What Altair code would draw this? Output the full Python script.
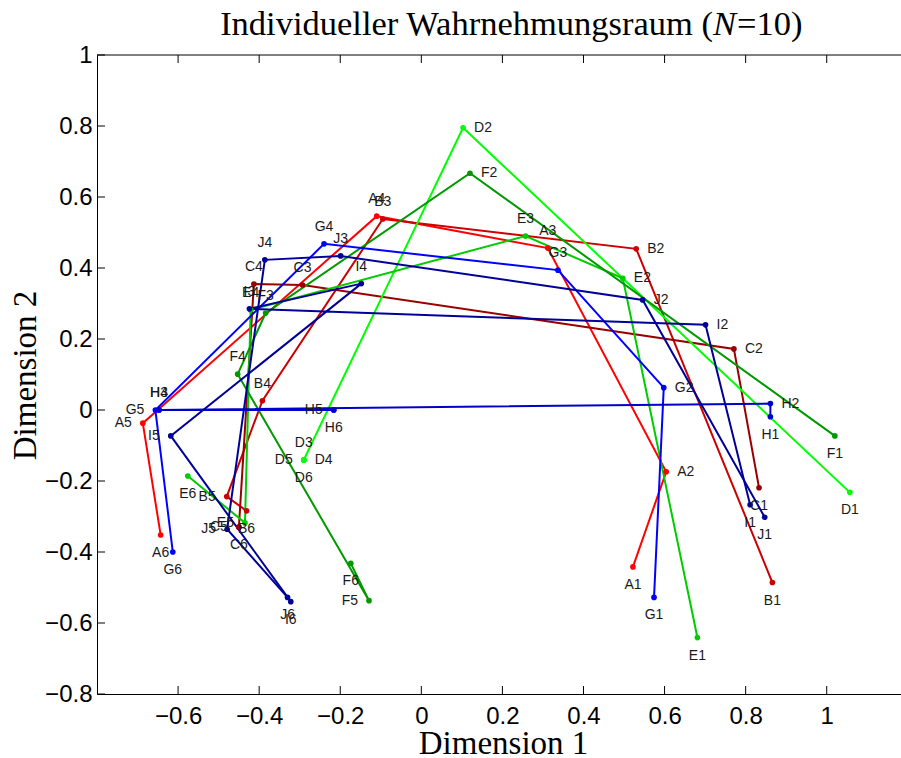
import altair as alt
import pandas as pd

# Stimulus positions (Dimension 1 / Dimension 2) for each of the ten subjects A-J,
# stimuli 1..6 in presentation order.
A_dim1 = [0.522, 0.604, 0.312, -0.110, -0.687, -0.643]
A_dim2 = [-0.442, -0.174, 0.456, 0.546, -0.037, -0.352]
B_dim1 = [0.866, 0.530, -0.095, -0.392, -0.480, -0.431]
B_dim2 = [-0.486, 0.454, 0.538, 0.026, -0.244, -0.284]
C_dim1 = [0.833, 0.771, -0.293, -0.413, -0.450, -0.450]
C_dim2 = [-0.219, 0.172, 0.352, 0.355, -0.330, -0.330]
D_dim1 = [1.057, 0.103, -0.290, -0.290, -0.290, -0.290]
D_dim2 = [-0.232, 0.795, -0.141, -0.141, -0.141, -0.141]
E_dim1 = [0.681, 0.497, 0.257, -0.421, -0.435, -0.576]
E_dim2 = [-0.641, 0.371, 0.490, 0.282, -0.318, -0.186]
F_dim1 = [1.020, 0.120, -0.384, -0.453, -0.129, -0.174]
F_dim2 = [-0.073, 0.667, 0.273, 0.101, -0.537, -0.432]
G_dim1 = [0.574, 0.598, 0.337, -0.240, -0.656, -0.613]
G_dim2 = [-0.528, 0.063, 0.394, 0.468, 0.000, -0.400]
H_dim1 = [0.861, 0.861, -0.647, -0.647, -0.216, -0.216]
H_dim2 = [-0.019, 0.018, 0.000, 0.000, 0.000, 0.000]
I_dim1 = [0.811, 0.701, -0.424, -0.148, -0.618, -0.322]
I_dim2 = [-0.267, 0.240, 0.285, 0.356, -0.073, -0.540]
J_dim1 = [0.847, 0.546, -0.199, -0.386, -0.479, -0.330]
J_dim2 = [-0.302, 0.310, 0.434, 0.423, -0.336, -0.528]

subjects = ["A", "B", "C", "D", "E", "F", "G", "H", "I", "J"]
subject_colors = ["#ff0000", "#cc0000", "#990000",
                  "#00ff00", "#00cc00", "#009900",
                  "#0000ff", "#0000cc", "#000099", "#000099"]

x_ticks = [-0.6, -0.4, -0.2, 0, 0.2, 0.4, 0.6, 0.8, 1.0]
y_ticks = [-0.8, -0.6, -0.4, -0.2, 0, 0.2, 0.4, 0.6, 0.8, 1.0]

# title pieces: the sample size symbol is set in italics
title_parts = ["Individueller Wahrnehmungsraum (", "N", "=10)"]

# where each stimulus label sits relative to its point
label_side = ["below", "right", "above", "above", "left", "below"]
label_side_override = {"D4": "right"}

coords = {
    "A": (A_dim1, A_dim2), "B": (B_dim1, B_dim2), "C": (C_dim1, C_dim2),
    "D": (D_dim1, D_dim2), "E": (E_dim1, E_dim2), "F": (F_dim1, F_dim2),
    "G": (G_dim1, G_dim2), "H": (H_dim1, H_dim2), "I": (I_dim1, I_dim2),
    "J": (J_dim1, J_dim2),
}

rows = []
for s in subjects:
    xs, ys = coords[s]
    for i, (xv, yv) in enumerate(zip(xs, ys)):
        lab = f"{s}{i + 1}"
        rows.append({"subject": s, "idx": i + 1, "label": lab, "x": xv, "y": yv,
                     "side": label_side_override.get(lab, label_side[i])})
df = pd.DataFrame(rows)

W, H = 804, 639
SERIF = "Liberation Serif"
SANS = "Liberation Sans"

x_scale = alt.Scale(domain=[-0.8, 1.1832], nice=False, zero=False)
y_scale = alt.Scale(domain=[-0.8, 1.0], nice=False, zero=False)

x_axis = alt.Axis(values=x_ticks, format="~g", ticks=False, tickSize=0, grid=False,
                  domainColor="black", domainWidth=1,
                  labelFont=SANS, labelFontSize=24, labelColor="black",
                  labelPadding=29, labelBaseline="alphabetic", labelFlush=False,
                  labelOverlap=False,
                  title="Dimension 1", titleFont=SERIF, titleFontSize=33,
                  titleFontWeight="normal", titleColor="black",
                  titleX=406, titleY=59, titleBaseline="alphabetic")
y_axis = alt.Axis(values=y_ticks, format="~g", ticks=False, tickSize=0, grid=False,
                  domainColor="black", domainWidth=1,
                  labelFont=SANS, labelFontSize=24, labelColor="black",
                  labelPadding=5, labelFlush=False, labelOverlap=False,
                  title="Dimension 2", titleFont=SERIF, titleFontSize=33,
                  titleFontWeight="normal", titleColor="black",
                  titleX=-62, titleY=320, titleAngle=270, titleBaseline="alphabetic")

X = alt.X("x:Q", scale=x_scale, axis=x_axis)
Y = alt.Y("y:Q", scale=y_scale, axis=y_axis)
color = alt.Color("subject:N", scale=alt.Scale(domain=subjects, range=subject_colors),
                  legend=None)

base = alt.Chart(df)

lines = base.mark_line(strokeWidth=2).encode(x=X, y=Y, color=color, detail="subject:N",
                                             order="idx:Q")
points = base.mark_circle(size=32, opacity=1).encode(x=X, y=Y, color=color)

label_style = dict(font=SANS, fontSize=14, color="#1a1a1a")
text_below = base.mark_text(align="center", baseline="middle", dy=18, **label_style) \
    .encode(x=X, y=Y, text="label:N").transform_filter(alt.datum.side == "below")
text_above = base.mark_text(align="center", baseline="middle", dy=-17, **label_style) \
    .encode(x=X, y=Y, text="label:N").transform_filter(alt.datum.side == "above")
text_right = base.mark_text(align="left", baseline="middle", dx=11, **label_style) \
    .encode(x=X, y=Y, text="label:N").transform_filter(alt.datum.side == "right")
text_left = base.mark_text(align="right", baseline="middle", dx=-11, **label_style) \
    .encode(x=X, y=Y, text="label:N").transform_filter(alt.datum.side == "left")

# frame: top edge and inward ticks on the bottom, top and left sides
xt = pd.DataFrame({"x": x_ticks})
yt = pd.DataFrame({"y": y_ticks})
one = pd.DataFrame({"k": [0]})
top_edge = alt.Chart(one).mark_rule(color="black", strokeWidth=1).encode(
    x=alt.value(0), x2=alt.value(W), y=alt.value(0))
ticks_bottom = alt.Chart(xt).mark_rule(color="black", strokeWidth=1).encode(
    x=X, y=alt.value(H), y2=alt.value(H - 8))
ticks_top = alt.Chart(xt).mark_rule(color="black", strokeWidth=1).encode(
    x=X, y=alt.value(0), y2=alt.value(8))
ticks_left = alt.Chart(yt).mark_rule(color="black", strokeWidth=1).encode(
    y=Y, x=alt.value(0), x2=alt.value(8))

# chart title, set in three runs above the plot
title_y = -20
t_style = dict(font=SERIF, fontSize=34.5, color="black", baseline="alphabetic")
title_a = alt.Chart(one).mark_text(align="right", text=title_parts[0], **t_style).encode(
    x=alt.value(616), y=alt.value(title_y))
title_b = alt.Chart(one).mark_text(align="left", text=title_parts[1], fontStyle="italic",
                                   **t_style).encode(x=alt.value(616), y=alt.value(title_y))
title_c = alt.Chart(one).mark_text(align="left", text=title_parts[2], **t_style).encode(
    x=alt.value(640), y=alt.value(title_y))

chart = alt.layer(
    lines, points, text_below, text_above, text_right, text_left,
    top_edge, ticks_bottom, ticks_top, ticks_left,
    title_a, title_b, title_c,
).properties(
    width=W, height=H,
    autosize=alt.AutoSizeParams(type="none"),
    padding={"left": 97, "top": 55, "right": 0, "bottom": 64},
    background="white",
).configure_view(strokeWidth=0)

chart.save("out.html", embed_options={"renderer": "svg", "actions": False})
